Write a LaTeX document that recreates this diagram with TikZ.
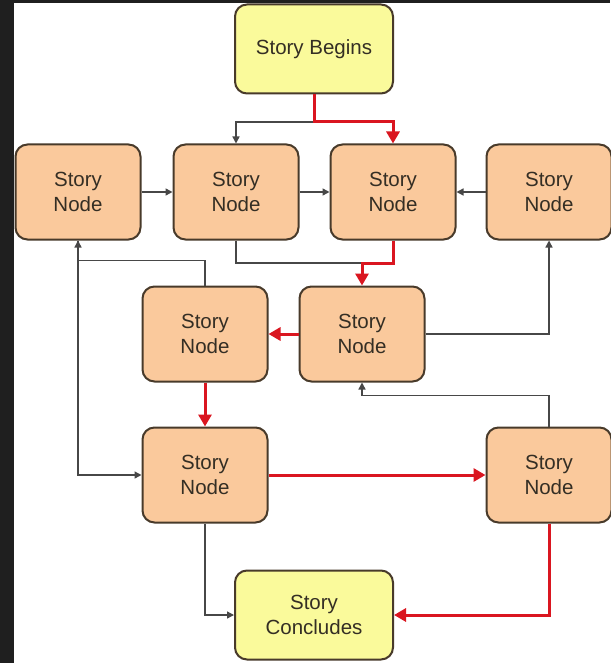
\documentclass[tikz,border=0pt]{standalone}
\usepackage{fontspec}
\setmainfont{Liberation Sans}
\usetikzlibrary{arrows.meta}

\definecolor{peach}{RGB}{250,201,156}
\definecolor{lemon}{RGB}{250,250,155}
\definecolor{rim}{RGB}{72,58,42}
\definecolor{hot}{RGB}{218,22,32}
\definecolor{ink}{RGB}{52,46,36}

\begin{document}
\begin{tikzpicture}[x=1pt,y=-1pt,
  box/.style={rounded corners=12pt,draw=rim,line width=2pt,fill=peach,
    minimum width=125pt,minimum height=95pt,align=center,
    text=ink,font=\fontsize{20.5}{24.5}\selectfont},
  term/.style={box,fill=lemon,minimum width=158pt,minimum height=89pt},
  link/.style={draw=black!72,line width=1.4pt,-{Triangle[length=7pt,width=7pt]}},
  hot/.style={draw=hot,line width=3pt,-{Triangle[length=12pt,width=13pt]}}]
  % frame of the screenshot
  \useasboundingbox (0,0) rectangle (610,663);
  \fill[black!88] (0,0) rectangle (610,663);
  \fill[white] (14,3) rectangle (610,663);
  % story nodes: row a, row b, row c
  \node[term] (begin) at (314,49) {Story Begins};
  \foreach \name/\xx in {a1/78,a2/236,a3/393,a4/549}
    \node[box] (\name) at (\xx,192) {Story\\Node};
  \foreach \name/\xx in {b1/205,b2/362}
    \node[box] (\name) at (\xx,334) {Story\\Node};
  \foreach \name/\xx in {c1/205,c2/549}
    \node[box] (\name) at (\xx,475) {Story\\Node};
  \node[term] (concl) at (314,615) {Story\\Concludes};
  % split points of the bent links
  \coordinate (top) at (314,122);
  \coordinate (mid) at (362,263);
  % plain links
  \draw[link] (top) -| (a2.north);
  \draw[link] (a1) -- (a2);
  \draw[link] (a2) -- (a3);
  \draw[link] (a4) -- (a3);
  \draw[link,-] (a2.south) |- (mid);
  \draw[link] (b2.east) -| (a4.south);
  \draw[link] (b1.north) -- ++(0,-25) -| (a1.south);
  \draw[link] (a1.south) |- (c1.west);
  \draw[link] (c2.north) -- ++(0,-31) -| (b2.south);
  \draw[link] (c1.south) |- (concl.west);
  % the marked path through the story
  \draw[hot] (begin.south) -- (top) -| (a3.north);
  \draw[hot] (a3.south) |- (mid) -- (b2.north);
  \draw[hot] (b2) -- (b1);
  \draw[hot] (b1) -- (c1);
  \draw[hot] (c1) -- (c2);
  \draw[hot] (c2.south) |- (concl.east);
\end{tikzpicture}
\end{document}
